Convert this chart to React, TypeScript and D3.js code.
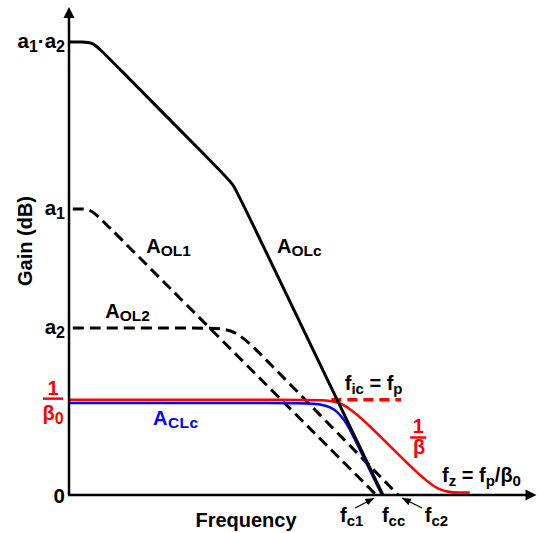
import React, { useEffect, useRef } from 'react';
import * as d3 from 'd3';

// x = log-frequency in decades from the origin, y = gain in dB
// corner points, rounded with a basis curve
const aOLc: [number, number][] = [[0.01, 95], [0.13, 95], [0.25, 95], [0.37, 92.6], [1.62, 67.3], [1.72, 65.3], [1.82, 61.2], [3.29, 0]];
const aOL1: [number, number][] = [[0.04, 60], [0.1, 60], [0.23, 60], [0.38, 57], [3.22, 0]];
const aOL2: [number, number][] = [[0.04, 35], [1.44, 35], [1.74, 35], [2.04, 28.9], [3.45, 0]];
const invBeta: [number, number][] = [[0, 20], [2.55, 20], [2.86, 20], [3.16, 14.3], [3.57, 6.2], [3.87, 0.5], [4.12, 0.5], [4.2, 0.5]];
const invBetaFlat: [number, number][] = [[2.75, 20], [3.48, 20]];
const aCLc: [number, number][] = [[0, 19.3], [2.41, 19.3], [2.81, 19.3], [3.01, 11.1], [3.28, 0]];

type Part = [string, boolean]; // text, subscript?

const gainTicks: { gain: number; parts: Part[] }[] = [
  { gain: 95, parts: [['a', false], ['1', true], ['·', false], ['a', false], ['2', true]] },
  { gain: 60, parts: [['a', false], ['1', true]] },
  { gain: 35, parts: [['a', false], ['2', true]] },
  { gain: 0, parts: [['0', false]] },
];
const betaDc = 20;

const crossings: { f: number; parts: Part[] }[] = [
  { f: 2.84, parts: [['f', false], ['c1', true]] },
  { f: 3.28, parts: [['f', false], ['cc', true]] },
  { f: 3.73, parts: [['f', false], ['c2', true]] },
];

const FONT = '"Liberation Sans", Arial, sans-serif';

const App: React.FC = () => {
  const ref = useRef<SVGSVGElement | null>(null);

  useEffect(() => {
    const svg = d3.select(ref.current);
    svg.selectAll('*').remove();

    const x = d3.scaleLinear().domain([0, 4.9]).range([69, 536.5]);
    const y = d3.scaleLinear().domain([0, 95]).range([495, 42]);

    const defs = svg.append('defs');
    defs.append('marker')
      .attr('id', 'tip')
      .attr('viewBox', '0 0 10 10')
      .attr('refX', 10).attr('refY', 5)
      .attr('markerWidth', 9).attr('markerHeight', 9)
      .attr('markerUnits', 'userSpaceOnUse')
      .attr('orient', 'auto')
      .append('path').attr('d', 'M0,1 L10,5 L0,9 Z').attr('fill', '#000');

    const rich = (
      sel: d3.Selection<any, any, any, any>,
      px: number, py: number, parts: Part[],
      opt: { fill?: string; anchor?: string; size?: number; sub?: number; shift?: number } = {}
    ) => {
      const size = opt.size ?? 20;
      const sub = opt.sub ?? 15;
      const shift = opt.shift ?? 4;
      const t = sel.append('text')
        .attr('x', px).attr('y', py)
        .attr('fill', opt.fill ?? '#000')
        .attr('text-anchor', opt.anchor ?? 'start')
        .attr('font-family', FONT)
        .attr('font-weight', 'bold')
        .attr('font-size', size);
      let off = 0;
      parts.forEach(([s, isSub]) => {
        const target = isSub ? shift : 0;
        t.append('tspan')
          .attr('dy', target - off)
          .attr('font-size', isSub ? sub : size)
          .text(s);
        off = target;
      });
      return t;
    };

    const line = d3.line<[number, number]>()
      .x(d => x(d[0]))
      .y(d => y(d[1]))
      .curve(d3.curveBasis);

    const g = svg.append('g');

    // open-loop stages (dashed)
    [aOL1, aOL2].forEach(d => {
      g.append('path').datum(d)
        .attr('d', line)
        .attr('fill', 'none')
        .attr('stroke', '#000')
        .attr('stroke-width', 3)
        .attr('stroke-dasharray', '11,6');
    });

    // 1/beta
    g.append('path').datum(invBeta)
      .attr('d', line)
      .attr('fill', 'none')
      .attr('stroke', '#ff0000')
      .attr('stroke-width', 2.5);
    g.append('path').datum(invBetaFlat)
      .attr('d', d3.line<[number, number]>().x(d => x(d[0])).y(d => y(d[1])))
      .attr('fill', 'none')
      .attr('stroke', '#ff0000')
      .attr('stroke-width', 3.5)
      .attr('stroke-dasharray', '10,6');

    // closed loop
    g.append('path').datum(aCLc)
      .attr('d', line)
      .attr('fill', 'none')
      .attr('stroke', '#0000ff')
      .attr('stroke-width', 2.5);

    // cascaded open loop
    g.append('path').datum(aOLc)
      .attr('d', line)
      .attr('fill', 'none')
      .attr('stroke', '#000')
      .attr('stroke-width', 3)
      .attr('stroke-linejoin', 'round');

    // axes with arrow heads
    const yTop = y.invert(7);
    g.append('line')
      .attr('x1', x(0)).attr('y1', y(0))
      .attr('x2', x(0)).attr('y2', y(yTop) + 9)
      .attr('stroke', '#000').attr('stroke-width', 2.5);
    g.append('path')
      .attr('d', `M${x(0)},${y(yTop)} L${x(0) - 5.5},${y(yTop) + 11} L${x(0) + 5.5},${y(yTop) + 11} Z`)
      .attr('fill', '#000');
    g.append('line')
      .attr('x1', x(0) - 1).attr('y1', y(0))
      .attr('x2', x(4.9) - 9).attr('y2', y(0))
      .attr('stroke', '#000').attr('stroke-width', 2.5);
    g.append('path')
      .attr('d', `M${x(4.9)},${y(0)} L${x(4.9) - 11},${y(0) - 5.5} L${x(4.9) - 11},${y(0) + 5.5} Z`)
      .attr('fill', '#000');

    // gain tick labels
    gainTicks.forEach(t => {
      rich(g, x(0) - 4, y(t.gain) + (t.gain === 0 ? 8 : 6), t.parts, { anchor: 'end', size: 20.5, sub: 16 });
    });

    // 1/beta0 on the axis
    const bx = x(0) - 16;
    g.append('text')
      .attr('x', bx).attr('y', y(betaDc) - 5)
      .attr('text-anchor', 'middle')
      .attr('fill', '#ff0000')
      .attr('font-family', FONT).attr('font-weight', 'bold').attr('font-size', 20)
      .text('1');
    g.append('line')
      .attr('x1', bx - 10).attr('x2', bx + 10)
      .attr('y1', y(betaDc) - 1).attr('y2', y(betaDc) - 1)
      .attr('stroke', '#ff0000').attr('stroke-width', 2.5);
    rich(g, bx, y(betaDc) + 20, [['β', false], ['0', true]], { fill: '#ff0000', anchor: 'middle', sub: 16 });

    // 1/beta on the curve
    const rx = x(3.66);
    const ry = y(12.9);
    g.append('text')
      .attr('x', rx).attr('y', ry)
      .attr('text-anchor', 'middle')
      .attr('fill', '#ff0000')
      .attr('font-family', FONT).attr('font-weight', 'bold').attr('font-size', 20)
      .text('1');
    g.append('line')
      .attr('x1', rx - 8).attr('x2', rx + 8)
      .attr('y1', ry + 4).attr('y2', ry + 4)
      .attr('stroke', '#ff0000').attr('stroke-width', 2.5);
    rich(g, rx + 1, ry + 21, [['β', false]], { fill: '#ff0000', anchor: 'middle' });

    // curve names
    rich(g, x(0.81), y(50.8), [['A', false], ['OL1', true]], { sub: 15.5, shift: 3 });
    rich(g, x(0.38), y(37.1), [['A', false], ['OL2', true]], { sub: 15.5, shift: 3 });
    rich(g, x(2.18), y(50.8), [['A', false], ['OLc', true]], { sub: 15.5, shift: 3 });
    rich(g, x(0.88), y(14.7), [['A', false], ['CLc', true]], { fill: '#0000ff', sub: 15.5, shift: 3 })
      .attr('letter-spacing', 0.5);
    rich(g, x(2.89), y(22.0), [['f', false], ['ic', true], [' = f', false], ['p', true]]);
    rich(g, x(3.91), y(2.7), [['f', false], ['z', true], [' = f', false], ['p', true], ['/β', false], ['0', true]]);

    // crossover frequencies
    crossings.forEach(c => {
      rich(g, x(c.f), y(0) + 27, c.parts, { anchor: 'start' });
    });
    g.append('line')
      .attr('x1', x(3.0)).attr('y1', y(0) + 13)
      .attr('x2', x(3.2)).attr('y2', y(0) + 3)
      .attr('stroke', '#000').attr('stroke-width', 1.2)
      .attr('marker-end', 'url(#tip)');
    g.append('line')
      .attr('x1', x(3.7)).attr('y1', y(0) + 13)
      .attr('x2', x(3.49)).attr('y2', y(0) + 3)
      .attr('stroke', '#000').attr('stroke-width', 1.2)
      .attr('marker-end', 'url(#tip)');

    // axis titles
    g.append('text')
      .attr('transform', `translate(32, 241) rotate(-90)`)
      .attr('text-anchor', 'middle')
      .attr('font-family', FONT).attr('font-weight', 'bold').attr('font-size', 20)
      .text('Gain (dB)');
    g.append('text')
      .attr('x', 246).attr('y', 527)
      .attr('text-anchor', 'middle')
      .attr('font-family', FONT).attr('font-weight', 'bold').attr('font-size', 20)
      .text('Frequency');
  }, []);

  return (
    <svg
      ref={ref}
      width={538}
      height={533}
      style={{ position: 'absolute', left: 0, top: 0, background: '#fff' }}
    />
  );
};

export default App;
